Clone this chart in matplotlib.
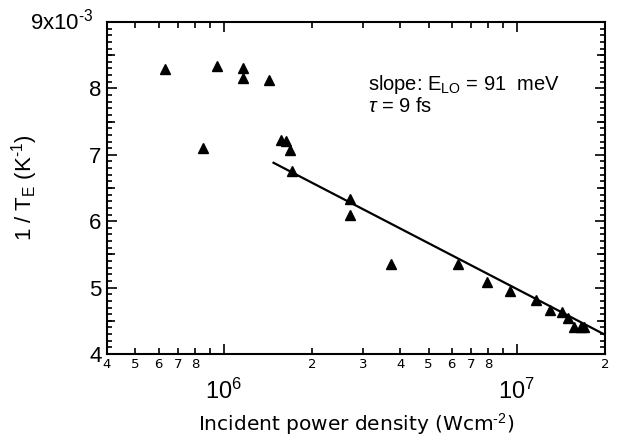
import matplotlib
matplotlib.use("Agg")
import matplotlib.pyplot as plt
from matplotlib.ticker import FixedLocator, NullFormatter

plt.rcParams['font.family'] = ['Liberation Sans', 'DejaVu Sans']
plt.rcParams['mathtext.fontset'] = 'custom'
plt.rcParams['mathtext.rm'] = 'Liberation Sans'
plt.rcParams['mathtext.it'] = 'Liberation Sans:italic'

# data (power density W/cm^2, 1/T_E in 1/K)
power = [6.31e5, 8.5e5, 9.49e5, 1.165e6, 1.165e6, 1.43e6, 1.57e6, 1.63e6, 1.69e6, 1.71e6,
         2.70e6, 2.70e6, 3.73e6, 6.32e6, 7.9e6, 9.45e6, 1.16e7, 1.30e7, 1.43e7, 1.50e7,
         1.57e7, 1.66e7, 1.70e7]
inv_te = [8.29e-3, 7.11e-3, 8.34e-3, 8.30e-3, 8.16e-3, 8.12e-3, 7.22e-3, 7.21e-3, 7.07e-3, 6.75e-3,
          6.33e-3, 6.10e-3, 5.35e-3, 5.35e-3, 5.09e-3, 4.95e-3, 4.81e-3, 4.67e-3, 4.64e-3, 4.54e-3,
          4.41e-3, 4.41e-3, 4.40e-3]
fit_power = [1.48e6, 2.0e7]
fit_inv_te = [6.88e-3, 4.29e-3]

x_minor = [4e5, 5e5, 6e5, 7e5, 8e5, 9e5, 2e6, 3e6, 4e6, 5e6, 6e6, 7e6, 8e6, 9e6, 2e7]
x_minor_labels = ['4', '5', '6', '7', '8', '', '2', '3', '4', '5', '6', '7', '8', '', '2']
x_major = [1e6, 1e7]
x_major_labels = ['$10^{6}$', '$10^{7}$']
y_major = [4e-3, 5e-3, 6e-3, 7e-3, 8e-3, 9e-3]
y_major_labels = ['4', '5', '6', '7', '8', '']
y_minor = [v * 1e-4 for v in range(40, 91)]
y_mid = [4.5e-3, 5.5e-3, 6.5e-3, 7.5e-3, 8.5e-3]

HY = '\u2010'

fig = plt.figure(figsize=(6.23, 4.42), dpi=100)
ax = fig.add_axes([0.1717, 0.1991, 0.7994, 0.7511])

ax.plot(power, inv_te, linestyle='none', marker='^', color='black', markersize=7)
ax.plot(fit_power, fit_inv_te, color='black', linewidth=1.6)

ax.set_xscale('log')
ax.set_xlim(4e5, 2e7)
ax.set_ylim(4e-3, 9e-3)

ax.xaxis.set_major_locator(FixedLocator(x_major))
ax.set_xticklabels(x_major_labels)
ax.xaxis.set_minor_locator(FixedLocator(x_minor))
ax.set_xticklabels(x_minor_labels, minor=True, family=['DejaVu Sans'])
ax.yaxis.set_major_locator(FixedLocator(y_major))
ax.set_yticklabels(y_major_labels)
ax.yaxis.set_minor_locator(FixedLocator(y_minor))
ax.yaxis.set_minor_formatter(NullFormatter())

ax.tick_params(axis='both', which='both', direction='in', top=True, right=True, width=1.2, colors='black')
ax.tick_params(axis='x', which='major', length=7.5, pad=18, labelsize=17)
ax.tick_params(axis='x', which='minor', length=4.2, pad=3, labelsize=9.5)
ax.tick_params(axis='y', which='major', length=7.5, pad=4, labelsize=16)
ax.tick_params(axis='y', which='minor', length=3.5)

for side in ['left', 'right']:
    sec = ax.secondary_yaxis(side)
    sec.set_yticks(y_mid)
    sec.set_yticklabels([])
    sec.tick_params(direction='in', length=5.5, width=1.2)
    sec.spines[side].set_visible(False)

for s in ax.spines.values():
    s.set_linewidth(1.5)

ax.text(-0.155, 1.0, '9x10$^{' + HY + '3}$', transform=ax.transAxes, ha='left', va='center', fontsize=16)

ax.set_ylabel('1 / T$_{\\mathrm{E}}$ (K$^{' + HY + '1}$)', fontsize=16)
ax.yaxis.set_label_coords(-0.135, 0.5)
ax.set_xlabel('Incident power density (Wcm$^{' + HY + '2}$)', fontsize=14.5, labelpad=5,
              family=['DejaVu Sans'])

ax.text(0.525, 0.813, 'slope: E$_{\\mathrm{LO}}$ = 91  meV', transform=ax.transAxes, fontsize=14.5, va='center')
ax.text(0.525, 0.745, '$\\tau$ = 9 fs', transform=ax.transAxes, fontsize=14.5, va='center')

fig.savefig('out.png', dpi=100)
